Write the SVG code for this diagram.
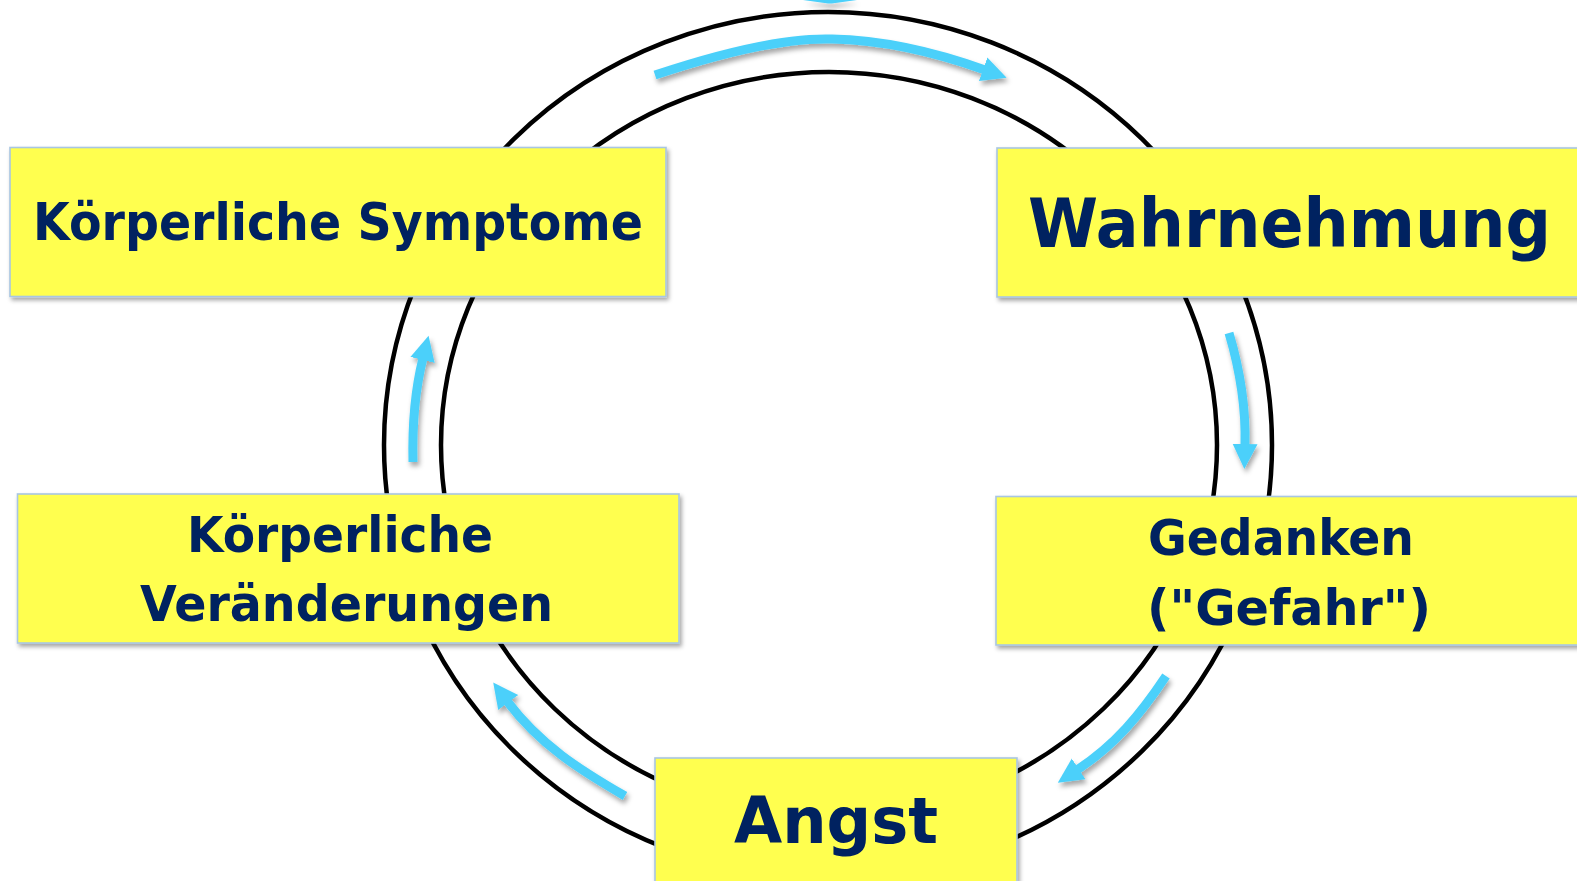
<svg xmlns="http://www.w3.org/2000/svg" width="1577" height="881" viewBox="0 0 1577 881">
  <style>
    .ring { fill: none; stroke: #000; stroke-width: 4.5; }
    .box { fill: #FFFF50; stroke: #A9C6E2; stroke-width: 1.6; }
    .lbl { font-family: "DejaVu Sans", "Liberation Sans", sans-serif; font-weight: bold; fill: #002060; }
    .arrow { fill: none; stroke: #4CD0FA; stroke-width: 9; marker-end: url(#head); }
  </style>
  <defs>
    <marker id="head" markerUnits="userSpaceOnUse" markerWidth="28" markerHeight="28" viewBox="0 0 28 28" refX="2" refY="14" orient="auto">
      <path d="M0,1.5 L25,14 L0,26.5 z" fill="#4CD0FA"/>
    </marker>
    <filter id="shadow" x="-10%" y="-10%" width="130%" height="130%">
      <feDropShadow dx="2" dy="3" stdDeviation="2" flood-color="#000" flood-opacity="0.35"/>
    </filter>
    <filter id="ashadow" x="-20%" y="-20%" width="140%" height="140%">
      <feDropShadow dx="2" dy="4" stdDeviation="2.5" flood-color="#000" flood-opacity="0.35"/>
    </filter>
  </defs>
  <rect width="1577" height="881" fill="#fff"/>

  <g id="rings">
    <ellipse class="ring" cx="828" cy="445" rx="444" ry="433"/>
    <ellipse class="ring" cx="829" cy="445" rx="388" ry="373"/>
  </g>

  <g id="connectors" filter="url(#ashadow)">
    <polygon points="803,0 857,0 832,3.4 828,3.4" fill="#4CD0FA"/>
    <path class="arrow" d="M655,75 C745,45 800,38 832,39 C880,40 935,52 985,70"/>
    <path class="arrow" d="M1229,333 C1240,370 1246,410 1245,446"/>
    <path class="arrow" d="M1166,676 C1140,715 1115,745 1077,770"/>
    <path class="arrow" d="M625,796 C580,770 540,745 507,701"/>
    <path class="arrow" d="M413,462 C412,420 415,390 423,358"/>
  </g>

  <g id="node-symptome" filter="url(#shadow)">
    <rect class="box" x="10" y="147.5" width="656" height="149"/>
    <text class="lbl" x="33" y="240" font-size="51" textLength="610" lengthAdjust="spacingAndGlyphs">Körperliche Symptome</text>
  </g>
  <g id="node-wahrnehmung" filter="url(#shadow)">
    <rect class="box" x="997" y="148" width="600" height="149"/>
    <text class="lbl" x="1028" y="247" font-size="67" textLength="523" lengthAdjust="spacingAndGlyphs">Wahrnehmung</text>
  </g>
  <g id="node-gedanken" filter="url(#shadow)">
    <rect class="box" x="996" y="496.5" width="600" height="148.5"/>
    <text class="lbl" x="1148" y="555" font-size="50" textLength="266" lengthAdjust="spacingAndGlyphs">Gedanken</text>
    <text class="lbl" x="1147" y="625" font-size="50" textLength="284" lengthAdjust="spacingAndGlyphs">("Gefahr")</text>
  </g>
  <g id="node-angst" filter="url(#shadow)">
    <rect class="box" x="655" y="758" width="362" height="140"/>
    <text class="lbl" x="734" y="843" font-size="64" textLength="204" lengthAdjust="spacingAndGlyphs">Angst</text>
  </g>
  <g id="node-veraenderungen" filter="url(#shadow)">
    <rect class="box" x="17.5" y="494" width="661.5" height="149"/>
    <text class="lbl" x="187" y="552" font-size="50" textLength="306" lengthAdjust="spacingAndGlyphs">Körperliche</text>
    <text class="lbl" x="140" y="621" font-size="50" textLength="413" lengthAdjust="spacingAndGlyphs">Veränderungen</text>
  </g>
</svg>
